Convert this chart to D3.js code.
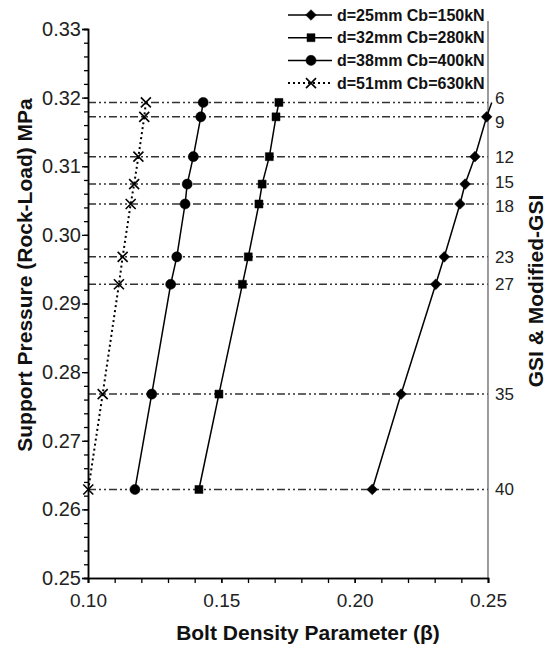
<!DOCTYPE html>
<html><head><meta charset="utf-8">
<script src="https://cdn.jsdelivr.net/npm/d3@7"></script>
<style>body{margin:0;background:#fff}svg{display:block}</style>
</head><body><svg id="c" width="553" height="650"></svg>
<script>
const gsiLabels = ["6","9","12","15","18","23","27","35","40"];
const supportPressure = [0.3193,0.3172,0.3114,0.3074,0.3045,0.2968,0.2928,0.2768,0.2629];
const beta25 = [0.2514,0.2495,0.2451,0.2414,0.2395,0.2336,0.2304,0.2174,0.2066];
const beta32 = [0.1716,0.1705,0.1680,0.1653,0.1641,0.1601,0.1579,0.1491,0.1416];
const beta38 = [0.1432,0.1423,0.1395,0.1372,0.1364,0.1333,0.1310,0.1239,0.1176];
const beta51 = [0.1217,0.1211,0.1189,0.1173,0.1160,0.1130,0.1116,0.1055,0.1001];
const seriesNames = ["d=25mm Cb=150kN","d=32mm Cb=280kN","d=38mm Cb=400kN","d=51mm Cb=630kN"];
const xTicks = [0.10,0.15,0.20,0.25];
const yTicks = [0.25,0.26,0.27,0.28,0.29,0.30,0.31,0.32,0.33];
const xMinorTicks = d3.range(0,16).map(i => 0.10 + i*0.01);
const yMinorTicks = d3.range(0,41).map(i => 0.25 + i*0.002);

const FONT = "'Liberation Sans', Arial, Helvetica, sans-serif";
const svg = d3.select("#c");
const x = d3.scaleLinear().domain([0.10,0.25]).range([88,488]);
const y = d3.scaleLinear().domain([0.25,0.33]).range([578,29]);

const diamondSym = {draw(ctx,size){const r=Math.sqrt(size)/2;ctx.moveTo(0,-r);ctx.lineTo(r,0);ctx.lineTo(0,r);ctx.lineTo(-r,0);ctx.closePath();}};
const crossSym = {draw(ctx,size){const r=Math.sqrt(size)/2;ctx.moveTo(-r,-r);ctx.lineTo(r,r);ctx.moveTo(r,-r);ctx.lineTo(-r,r);}};
const series = [
  {name:seriesNames[0], vals:beta25, sym:diamondSym, size:115, dash:null, fill:"#000"},
  {name:seriesNames[1], vals:beta32, sym:d3.symbolSquare, size:64, dash:null, fill:"#000"},
  {name:seriesNames[2], vals:beta38, sym:d3.symbolCircle, size:80, dash:null, fill:"#000"},
  {name:seriesNames[3], vals:beta51, sym:crossSym, size:100, dash:"2,3", fill:"none"}
];

svg.append("g").selectAll("line").data(supportPressure).join("line")
  .attr("x1", x(0.10)).attr("x2", x(0.25))
  .attr("y1", d=>y(d)).attr("y2", d=>y(d))
  .attr("stroke","#333").attr("stroke-width",1.5)
  .attr("stroke-dasharray","8,3,2,3,2,3");

svg.append("line").attr("x1",x(0.25)).attr("x2",x(0.25))
  .attr("y1",21).attr("y2",y(0.25))
  .attr("stroke","#666").attr("stroke-width",1.3);

const gy = svg.append("g").attr("transform",`translate(${x(0.10)},0)`)
  .call(d3.axisLeft(y).tickValues(yTicks).tickFormat(d3.format(".2f")).tickSize(6).tickPadding(1));
const gyMinor = svg.append("g").attr("transform",`translate(${x(0.10)},0)`)
  .call(d3.axisLeft(y).tickValues(yMinorTicks).tickFormat("").tickSize(4));
const gx = svg.append("g").attr("transform",`translate(0,${y(0.25)})`)
  .call(d3.axisBottom(x).tickValues(xTicks).tickFormat(d3.format(".2f")).tickSize(5).tickPadding(11));
const gxMinor = svg.append("g").attr("transform",`translate(0,${y(0.25)})`)
  .call(d3.axisBottom(x).tickValues(xMinorTicks).tickFormat("").tickSize(5));
[gy,gyMinor,gx,gxMinor].forEach(g=>{
  g.selectAll(".domain").attr("stroke","#000").attr("stroke-width",1.5);
  g.selectAll(".tick line").attr("stroke","#000").attr("stroke-width",1.3);
  g.selectAll("text").attr("font-family",FONT).attr("fill","#222");
});
gy.selectAll("text").attr("font-size",20);
gx.selectAll("text").attr("font-size",19);

const line = d3.line().x(d=>x(d[0])).y(d=>y(d[1]));
series.forEach(s=>{
  const pts = s.vals.map((v,i)=>[v, supportPressure[i]]);
  svg.append("path").datum(pts).attr("d",line)
    .attr("fill","none").attr("stroke","#000")
    .attr("stroke-width", s.dash?2:1.5)
    .attr("stroke-dasharray", s.dash);
  svg.append("g").selectAll("path").data(pts.filter(p=>p[0]<=0.25)).join("path")
    .attr("transform",p=>`translate(${x(p[0])},${y(p[1])})`)
    .attr("d", d3.symbol().type(s.sym).size(s.size))
    .attr("fill", s.fill).attr("stroke","#000").attr("stroke-width", s.fill==="none"?1.6:0.5);
});

const lab = supportPressure.map((v,i)=>({t:gsiLabels[i], y:y(v)})).sort((a,b)=>a.y-b.y);
for(let it=0; it<20; it++){
  for(let i=1;i<lab.length;i++){
    const d = lab[i].y - lab[i-1].y;
    if(d < 24){ const p=(24-d)/2; lab[i].y+=p; lab[i-1].y-=p; }
  }
}
svg.append("g").selectAll("text").data(lab).join("text")
  .attr("x",495).attr("y",d=>d.y).attr("dy","0.35em")
  .attr("font-family",FONT).attr("font-size",17).attr("fill","#222")
  .text(d=>d.t);

svg.append("text").attr("transform","translate(25,275) rotate(-90)")
  .attr("text-anchor","middle").attr("dy","0.35em")
  .attr("font-family",FONT).attr("font-size",21).attr("font-weight","bold").attr("fill","#111")
  .text("Support Pressure (Rock-Load) MPa");
svg.append("text").attr("transform","translate(536,291) rotate(-90)")
  .attr("text-anchor","middle").attr("dy","0.35em")
  .attr("font-family",FONT).attr("font-size",21).attr("font-weight","bold").attr("fill","#111")
  .text("GSI & Modified-GSI");
svg.append("text").attr("x",308).attr("y",640)
  .attr("text-anchor","middle")
  .attr("font-family",FONT).attr("font-size",21).attr("font-weight","bold").attr("fill","#111")
  .text("Bolt Density Parameter (β)");

const lg = svg.append("g");
series.forEach((s,i)=>{
  const cy = 15 + i*22.7;
  lg.append("line").attr("x1",288).attr("x2",332).attr("y1",cy).attr("y2",cy)
    .attr("stroke","#000").attr("stroke-width", s.dash?2:1.5).attr("stroke-dasharray", s.dash);
  lg.append("path").attr("transform",`translate(311,${cy})`)
    .attr("d", d3.symbol().type(s.sym).size(s.size))
    .attr("fill", s.fill).attr("stroke","#000").attr("stroke-width", s.fill==="none"?1.6:0.5);
  lg.append("text").attr("x",337).attr("y",cy).attr("dy","0.35em")
    .attr("font-family",FONT).attr("font-size",16).attr("font-weight","bold").attr("fill","#111")
    .text(s.name);
});
</script></body></html>
